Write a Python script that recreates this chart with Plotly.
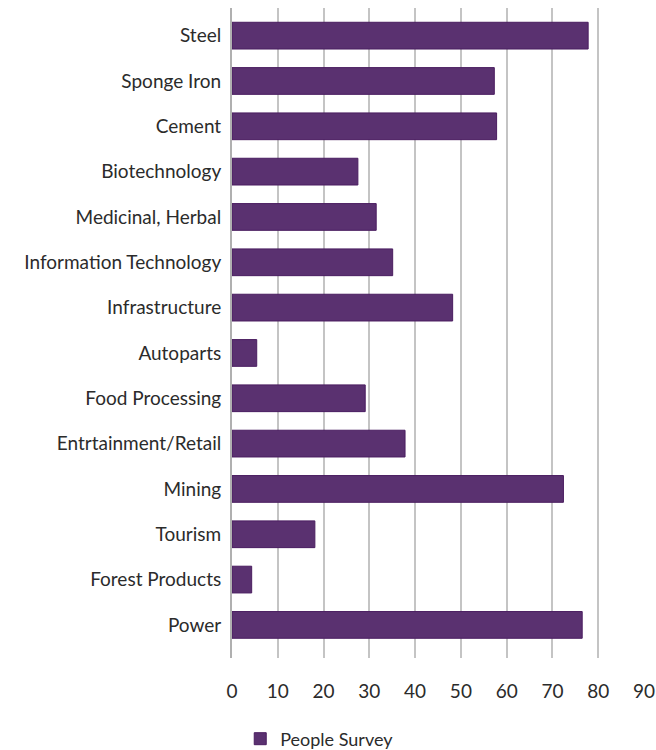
import plotly.graph_objects as go

categories = ["Steel", "Sponge Iron", "Cement", "Biotechnology", "Medicinal, Herbal",
              "Information Technology", "Infrastructure", "Autoparts", "Food Processing",
              "Entrtainment/Retail", "Mining", "Tourism", "Forest Products", "Power"]
people_survey = [77.8, 57.3, 57.8, 27.5, 31.5, 35.1, 48.2, 5.4, 29.1, 37.8, 72.4, 18.1, 4.3, 76.5]
x_ticks = [0, 10, 20, 30, 40, 50, 60, 70, 80, 90]

font_family = "Lato, 'Open Sans', sans-serif"

fig = go.Figure()
fig.add_trace(go.Bar(
    y=categories, x=people_survey, orientation="h", name="People Survey",
    marker=dict(color="#5a3170", line=dict(color="#4a1d60", width=1)),
    width=0.59,
))

fig.update_layout(
    width=656, height=750,
    margin=dict(l=232, r=12, t=8, b=92, autoexpand=False),
    paper_bgcolor="white", plot_bgcolor="white",
    font=dict(family=font_family, size=19, color="#2b2b2b"),
    showlegend=True,
    legend=dict(orientation="h", x=0.02, xanchor="left",
                yref="container", y=1 - 739 / 750, yanchor="middle",
                font=dict(size=18, color="#2b2b2b"), itemwidth=30),
    xaxis=dict(range=[0, 90], tickvals=x_ticks, showgrid=True, gridcolor="#c4c4c4",
               gridwidth=1.5, zeroline=False, showline=False, ticks="",
               automargin=False, ticklabelstandoff=20, tickfont=dict(size=19)),
    yaxis=dict(categoryorder="array", categoryarray=categories,
               range=[13.73, -0.61], showgrid=False, zeroline=False,
               showline=True, linecolor="#b0b0b0", linewidth=2, ticks="",
               automargin=False, ticklabelstandoff=5, tickfont=dict(size=19)),
)

fig.write_html("out.html", config={"displayModeBar": False},
               post_script="document.body.style.margin='0';document.body.style.overflow='hidden';")
